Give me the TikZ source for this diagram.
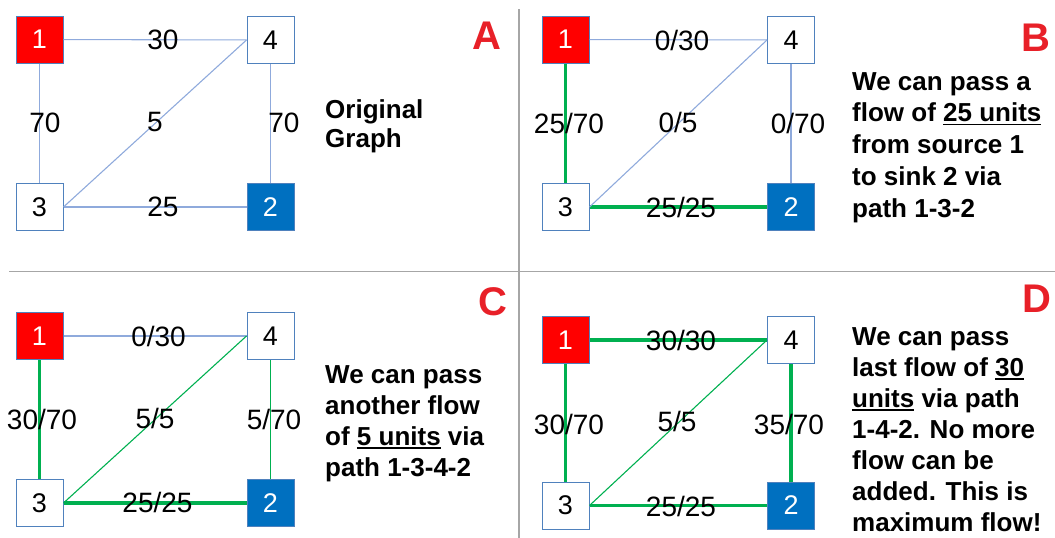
\documentclass[tikz,border=0pt]{standalone}
\usepackage{fontspec}
\setmainfont{Liberation Sans}
\definecolor{srcred}{RGB}{255,0,0}
\definecolor{snkblue}{RGB}{0,112,192}
\definecolor{boxblue}{RGB}{79,129,189}
\definecolor{edgeblue}{RGB}{143,170,220}
\definecolor{flowgreen}{RGB}{0,176,80}
\definecolor{lettred}{RGB}{232,32,40}
\definecolor{divgray}{RGB}{166,166,166}
\newsavebox\ulbox
\newcommand\myul[1]{\sbox\ulbox{#1}\rlap{\rule[-3.6pt]{\wd\ulbox}{1.8pt}}\usebox\ulbox}
\tikzset{
  vbox/.style={draw=boxblue, line width=1pt, minimum width=47pt, minimum height=47pt, inner sep=0pt, fill=white, font=\fontsize{27}{32}\selectfont},
  srcbox/.style={vbox, fill=srcred, text=white},
  snkbox/.style={vbox, fill=snkblue, text=white},
  elab/.style={inner sep=0pt, font=\fontsize{28}{33}\selectfont},
  ethin/.style={draw=edgeblue, line width=1.1pt},
  egthin/.style={draw=flowgreen, line width=1.1pt},
  egthick/.style={draw=flowgreen, line width=3.6pt},
  desc/.style={inner sep=0pt, anchor=north west, align=left, font=\bfseries\fontsize{26}{31}\selectfont},
  panel/.style={inner sep=0pt, text=lettred, font=\bfseries\fontsize{40}{48}\selectfont},
  divider/.style={draw=divgray, line width=1.5pt}
}
\begin{document}
\begin{tikzpicture}[x=1pt,y=-1pt]
\useasboundingbox (0,0) rectangle (1055,538);
% dividers
\coordinate (vt) at (519,9);
\coordinate (vb) at (519,538);
\coordinate (hl) at (9,271.5);
\coordinate (hr) at (1055,271.5);
\draw[divider] (vt) -- (vb);
\draw[divider] (hl) -- (hr);

% ---------------- Panel A ----------------
\node[srcbox] (a1) at (39.5,39.5) {1};
\node[vbox]   (a4) at (270.5,40) {4};
\node[vbox]   (a3) at (39.5,207) {3};
\node[snkbox] (a2) at (270.5,207) {2};
\draw[ethin] (a1) -- (a4);
\draw[ethin] (a1) -- (a3);
\draw[ethin] (a4) -- (a2);
\draw[ethin] (a3) -- (a2);
\draw[ethin] (a3.east) -- (a4.west);
\node[elab] (la14) at (163,40) {30};
\node[elab] (la13) at (45,123) {70};
\node[elab] (la34) at (155,122) {5};
\node[elab] (la42) at (284,123) {70};
\node[elab] (la32) at (163,207) {25};
\node[desc, font=\bfseries\fontsize{26}{29}\selectfont] (ta) at (325,99) {Original\\Graph};
\node[panel] (pa) at (487,36) {A};

% ---------------- Panel B ----------------
\node[srcbox] (b1) at (565.5,39.5) {1};
\node[vbox]   (b4) at (791,40) {4};
\node[vbox]   (b3) at (565.5,207) {3};
\node[snkbox] (b2) at (791,207) {2};
\draw[ethin] (b1) -- (b4);
\draw[egthick] (b1) -- (b3);
\draw[ethin] (b4) -- (b2);
\draw[egthick] (b3) -- (b2);
\draw[ethin] (b3.east) -- (b4.west);
\node[elab] (lb14) at (682,40) {0/30};
\node[elab] (lb13) at (569,123) {25/70};
\node[elab] (lb34) at (678,122) {0/5};
\node[elab] (lb42) at (798,123) {0/70};
\node[elab] (lb32) at (681,207) {25/25};
\node[desc, font=\bfseries\fontsize{26}{31.8}\selectfont] (tb) at (852,72) {We can pass a\\flow of \myul{25 units}\\from source 1\\to sink 2 via\\path 1-3-2};
\node[panel] (pb) at (1036,38) {B};

% ---------------- Panel C ----------------
\node[srcbox] (c1) at (39.5,336) {1};
\node[vbox]   (c4) at (270.5,336) {4};
\node[vbox]   (c3) at (39.5,503) {3};
\node[snkbox] (c2) at (270.5,503) {2};
\draw[ethin] (c1) -- (c4);
\draw[egthick] (c1) -- (c3);
\draw[egthin] (c4) -- (c2);
\draw[egthick] (c3) -- (c2);
\draw[egthin] (c3.east) -- (c4.west);
\node[elab] (lc14) at (158.5,336) {0/30};
\node[elab] (lc13) at (42,419) {30/70};
\node[elab] (lc34) at (155,418) {5/5};
\node[elab] (lc42) at (274,419) {5/70};
\node[elab] (lc32) at (157.5,502) {25/25};
\node[desc] (tc) at (325,365) {We can pass\\another flow\\of \myul{5 units} via\\path 1-3-4-2};
\node[panel] (pc) at (493,302) {C};

% ---------------- Panel D ----------------
\node[srcbox] (d1) at (565.5,340) {1};
\node[vbox]   (d4) at (791,340) {4};
\node[vbox]   (d3) at (565.5,505.5) {3};
\node[snkbox] (d2) at (791,505.5) {2};
\draw[egthick] (d1) -- (d4);
\draw[egthick] (d1) -- (d3);
\draw[egthick] (d4) -- (d2);
\draw[egthick] (d3) -- (d2);
\draw[egthin] (d3.east) -- (d4.west);
\node[elab] (ld14) at (681,340) {30/30};
\node[elab] (ld13) at (569,424) {30/70};
\node[elab] (ld34) at (677,421) {5/5};
\node[elab] (ld42) at (789,424) {35/70};
\node[elab] (ld32) at (681,506) {25/25};
\node[desc] (td) at (852,327) {We can pass\\last flow of \myul{30}\\\myul{units} via path\\1-4-2. No more\\flow can be\\added. This is\\maximum flow!};
\node[panel] (pd) at (1037,299) {D};
\end{tikzpicture}
\end{document}
